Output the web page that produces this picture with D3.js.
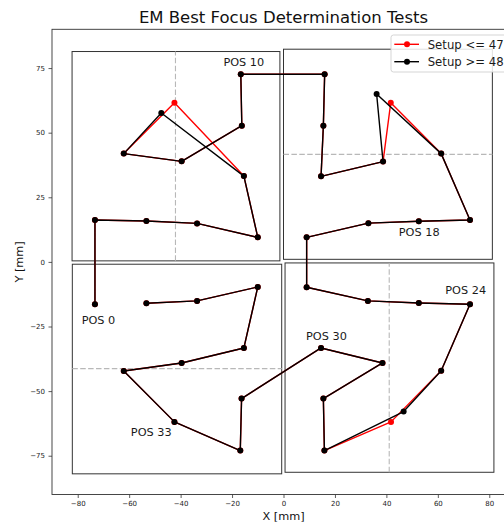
<!DOCTYPE html>
<html>
<head>
<meta charset="utf-8">
<script src="https://cdn.jsdelivr.net/npm/d3@7"></script>
<style>
  html, body { margin: 0; padding: 0; background: #fff; }
  svg { display: block; font-family: "DejaVu Sans", sans-serif; }
</style>
</head>
<body>
<svg id="chart" width="504" height="525"></svg>
<script>
// Measurement positions (index = POS number)
const positions = d3.range(40);

// Setup >= 48
const blackX = [-73.3, -73.3, -53.3, -33.6, -10.0, -15.4, -47.5, -62.1, -39.6, -16.2,
                -16.6, 16.0, 15.5, 14.6, 38.7, 36.2, 61.3, 72.5, 52.6, 33.0,
                9.0, 9.0, 32.8, 52.6, 72.5, 61.3, 46.7, 15.9, 15.5, 38.5,
                14.6, -16.3, -16.8, -42.4, -62.1, -39.6, -15.4, -10.0, -33.6, -53.3];
const blackY = [-16.4, 16.2, 15.8, 14.9, 9.5, 33.2, 57.6, 41.9, 38.9, 52.7,
                72.6, 72.6, 52.7, 33.1, 38.8, 65.0, 41.9, 16.2, 15.7, 15.0,
                9.5, -9.8, -15.1, -15.9, -16.4, -42.1, -57.9, -73.0, -52.9, -39.1,
                -33.3, -52.9, -73.0, -61.9, -42.2, -39.1, -33.3, -9.7, -15.1, -16.0];

// Setup <= 47
const redX = [-73.3, -73.3, -53.3, -33.6, -10.0, -15.4, -42.4, -62.1, -39.6, -16.2,
              -16.6, 16.0, 15.5, 14.6, 38.7, 41.7, 61.3, 72.5, 52.6, 33.0,
              9.0, 9.0, 32.8, 52.6, 72.5, 61.3, 41.8, 15.9, 15.5, 38.5,
              14.6, -16.3, -16.8, -42.4, -62.1, -39.6, -15.4, -10.0, -33.6, -53.3];
const redY = [-16.4, 16.2, 15.8, 14.9, 9.5, 33.2, 61.6, 41.9, 38.9, 52.7,
              72.6, 72.6, 52.7, 33.1, 38.8, 61.6, 41.9, 16.2, 15.7, 15.0,
              9.5, -9.8, -15.1, -15.9, -16.4, -42.1, -61.9, -73.0, -52.9, -39.1,
              -33.3, -52.9, -73.0, -61.9, -42.2, -39.1, -33.3, -9.7, -15.1, -16.0];

// Sensor outlines: [xmin, xmax, ymin, ymax]
const sensorX0 = [-82.2, 0.0, -82.1, 0.6];
const sensorX1 = [-1.4, 81.2, -0.7, 81.8];
const sensorY0 = [0.4, 1.0, -82.0, -81.4];
const sensorY1 = [81.4, 82.3, -0.9, -0.4];
// Centre line of each sensor: orientation and value
const centreDir = ["v", "h", "h", "v"];
const centreVal = [-42.0, 41.6, -41.3, 41.1];

// Labelled positions
const labelPos = [0, 10, 18, 24, 30, 33];
const labelText = ["POS 0", "POS 10", "POS 18", "POS 24", "POS 30", "POS 33"];

const xTicks = [-80, -60, -40, -20, 0, 20, 40, 60, 80];
const yTicks = [-75, -50, -25, 0, 25, 50, 75];

const seriesNames = ["Setup <= 47", "Setup >= 48"];
const seriesColors = ["#ff0000", "#000000"];

// ---- layout ----
const plot = { left: 52, right: 515, top: 29.3, bottom: 494.5 };
const labelOffset = [[-13.3, 19.7], [-17.4, -8.3], [-20, 14.7], [-24.7, -10.7], [-15, -7.7], [-43.6, 14]];

const svg = d3.select("#chart");
const x = d3.scaleLinear().domain([-90, 90]).range([plot.left, plot.right]);
const y = d3.scaleLinear().domain([-90, 90]).range([plot.bottom, plot.top]);

// Axes
const xAxis = d3.axisBottom(x).tickValues(xTicks).tickSize(3.5).tickPadding(3).tickSizeOuter(0);
const yAxis = d3.axisLeft(y).tickValues(yTicks).tickSize(3.5).tickPadding(3.5).tickSizeOuter(0);

const gx = svg.append("g").attr("transform", `translate(0,${plot.bottom})`).call(xAxis);
const gy = svg.append("g").attr("transform", `translate(${plot.left},0)`).call(yAxis);
[gx, gy].forEach(g => {
  g.select(".domain").remove();
  g.selectAll(".tick line").attr("stroke", "#333").attr("stroke-width", 0.8);
  g.selectAll(".tick text").attr("font-size", 7).attr("fill", "#222")
    .attr("font-family", "DejaVu Sans, sans-serif");
});

// Plot frame
svg.append("rect")
  .attr("x", plot.left).attr("y", plot.top)
  .attr("width", plot.right - plot.left).attr("height", plot.bottom - plot.top)
  .attr("fill", "none").attr("stroke", "#333").attr("stroke-width", 0.9);

// Sensor outlines
const sensors = d3.range(sensorX0.length);
svg.append("g").selectAll("rect").data(sensors).join("rect")
  .attr("x", i => x(sensorX0[i]))
  .attr("y", i => y(sensorY1[i]))
  .attr("width", i => x(sensorX1[i]) - x(sensorX0[i]))
  .attr("height", i => y(sensorY0[i]) - y(sensorY1[i]))
  .attr("fill", "none").attr("stroke", "#333").attr("stroke-width", 1);

// Centre lines (dashed)
svg.append("g").selectAll("line").data(sensors).join("line")
  .attr("x1", i => centreDir[i] === "v" ? x(centreVal[i]) : x(sensorX0[i]))
  .attr("x2", i => centreDir[i] === "v" ? x(centreVal[i]) : x(sensorX1[i]))
  .attr("y1", i => centreDir[i] === "v" ? y(sensorY0[i]) : y(centreVal[i]))
  .attr("y2", i => centreDir[i] === "v" ? y(sensorY1[i]) : y(centreVal[i]))
  .attr("stroke", "#b8b8b8").attr("stroke-width", 1.1)
  .attr("stroke-dasharray", "5.5,2.4");

// Series: red first, black on top
const series = [
  { xs: redX, ys: redY, color: seriesColors[0] },
  { xs: blackX, ys: blackY, color: seriesColors[1] }
];
const line = d3.line();
series.forEach(s => {
  const pts = positions.map(i => [x(s.xs[i]), y(s.ys[i])]);
  const g = svg.append("g");
  g.append("path").attr("d", line(pts))
    .attr("fill", "none").attr("stroke", s.color).attr("stroke-width", 1.4)
    .attr("stroke-linejoin", "round");
  g.selectAll("circle").data(pts).join("circle")
    .attr("cx", d => d[0]).attr("cy", d => d[1]).attr("r", 3)
    .attr("fill", s.color);
});

// Position labels
svg.append("g").selectAll("text").data(labelPos).join("text")
  .attr("x", (p, k) => x(blackX[p]) + labelOffset[k][0])
  .attr("y", (p, k) => y(blackY[p]) + labelOffset[k][1])
  .attr("font-size", 11.3).attr("fill", "#1a1a1a")
  .text((p, k) => labelText[k]);

// Title and axis labels
svg.append("text").attr("x", (plot.left + plot.right) / 2).attr("y", 23.3)
  .attr("text-anchor", "middle").attr("font-size", 16.5).attr("fill", "#111")
  .text("EM Best Focus Determination Tests");
svg.append("text").attr("x", (plot.left + plot.right) / 2).attr("y", 520)
  .attr("text-anchor", "middle").attr("font-size", 11.3).attr("fill", "#111")
  .text("X [mm]");
svg.append("text")
  .attr("transform", `translate(22.5,${(plot.top + plot.bottom) / 2}) rotate(-90)`)
  .attr("text-anchor", "middle").attr("font-size", 11.3).attr("fill", "#111")
  .text("Y [mm]");

// Legend
const lg = svg.append("g").attr("transform", "translate(391,35)");
lg.append("rect").attr("x", 0).attr("y", 0).attr("width", 124).attr("height", 37)
  .attr("rx", 2.5).attr("fill", "#fff").attr("fill-opacity", 0.85)
  .attr("stroke", "#d0d0d0").attr("stroke-width", 0.9);
seriesNames.forEach((name, i) => {
  const cy = 9.3 + i * 17.4;
  lg.append("line").attr("x1", 3.3).attr("x2", 28).attr("y1", cy).attr("y2", cy)
    .attr("stroke", seriesColors[i]).attr("stroke-width", 1.4);
  lg.append("circle").attr("cx", 16).attr("cy", cy).attr("r", 3).attr("fill", seriesColors[i]);
  lg.append("text").attr("x", 36.7).attr("y", cy + 4.2)
    .attr("font-size", 11.7).attr("fill", "#1a1a1a").text(name);
});
</script>
</body>
</html>
